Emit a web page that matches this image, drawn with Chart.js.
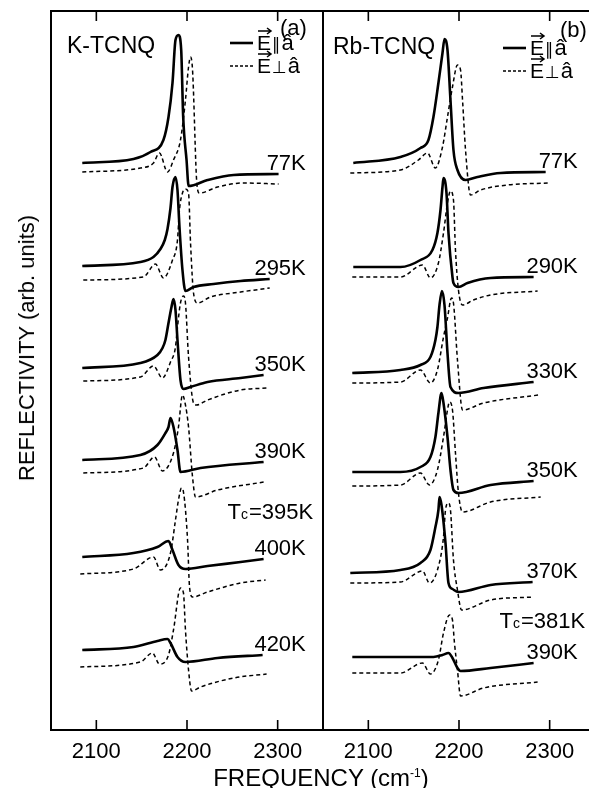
<!DOCTYPE html>
<html>
<head>
<meta charset="utf-8">
<script src="https://cdn.jsdelivr.net/npm/chart.js@4.4.0/dist/chart.umd.min.js"></script>
<style>
  body { margin: 0; width: 589px; height: 788px; overflow: hidden; background: #fff; position: relative;
         font-family: "Liberation Sans", Arial, sans-serif; color: #000; }
  canvas { position: absolute; top: 0; }
  #panelK { left: 0; }
  #panelRb { left: 313px; }
  .ytitle { position: absolute; left: 27px; top: 348px; transform: translate(-50%, -50%) rotate(-90deg);
            font-size: 22px; white-space: nowrap; }
  .xtitle { position: absolute; left: 321px; top: 766px; transform: translateX(-50%);
            font-size: 24px; line-height: 24px; white-space: nowrap; }
  .xtitle sup { font-size: 12px; vertical-align: 9px; line-height: 0; }
</style>
</head>
<body>
<canvas id="panelK" width="325" height="788"></canvas>
<canvas id="panelRb" width="282" height="788"></canvas>
<div class="ytitle">REFLECTIVITY (arb. units)</div>
<div class="xtitle">FREQUENCY (cm<sup>-1</sup>)</div>
<script>
const freqTicks = [2100, 2200, 2300]

// (a) K-TCNQ, temperatures top to bottom
const kTemps = ['77K', '295K', '350K', '390K', '400K', '420K']

// E || a (solid)
const k77ParF = [2084.5, 2141, 2159.7, 2174, 2179.6, 2184, 2187.3, 2190.6, 2193.6, 2195.8, 2199.5, 2201.8, 2222.7, 2251.4, 2301]
const k77ParR = [567, 571, 578, 590, 613, 647, 690, 695, 680, 613, 570, 544, 550, 555, 556]
const k295ParF = [2084.5, 2148.6, 2163, 2170.7, 2175.5, 2178.5, 2181.8, 2184, 2187.3, 2189.5, 2191.7, 2195, 2198.3, 2207.2, 2229.3, 2259.1, 2291.2]
const k295ParR = [464, 468, 473, 481, 490, 501, 522, 543, 553, 540, 503, 460, 439, 443, 446, 449, 451]
const k350ParF = [2084.5, 2148.6, 2167.4, 2173, 2176.2, 2179.6, 2182.9, 2185.1, 2187.3, 2189.5, 2192.8, 2196.1, 2203.9, 2222.7, 2259.1, 2284.5]
const k350ParR = [362, 367, 375, 382, 390, 407, 423, 431, 420, 390, 350, 341, 343, 348, 352, 355]
const k390ParF = [2084.5, 2148.6, 2167.4, 2176.2, 2179.6, 2181.8, 2185.1, 2189.5, 2192.8, 2214.9, 2284.5]
const k390ParR = [270, 275, 285, 297, 303, 312, 303, 280, 258, 262, 268]
const k400ParF = [2084.5, 2141, 2167.4, 2179.6, 2184, 2190.6, 2198.3, 2222.7, 2259.1, 2284.5]
const k400ParR = [173, 177, 183, 189, 180, 165, 161, 164, 168, 171]
const k420ParF = [2084.5, 2141, 2167.4, 2178.5, 2181.8, 2189.5, 2198.3, 2233.7, 2283.4]
const k420ParR = [80, 83, 89, 91, 87, 73, 68, 72, 75]

// E perpendicular to a (dashed)
const k77PerF = [2084.5, 2148.6, 2163, 2169.6, 2178.5, 2185.1, 2192.8, 2198.3, 2201.7, 2203.9, 2206.1, 2211, 2213.8, 2233.7, 2262.4, 2301]
const k77PerR = [558, 562, 567, 577, 558, 570, 590, 630, 663, 673, 660, 545, 537, 543, 547, 546]
const k295PerF = [2085.6, 2151.9, 2165.2, 2174, 2184, 2189.5, 2191.7, 2195, 2198.3, 2201.7, 2203.9, 2207.2, 2211.6, 2226, 2259.1, 2291.2]
const k295PerR = [450, 453, 466, 452, 470, 490, 520, 537, 541, 537, 487, 437, 427, 433, 438, 442]
const k350PerF = [2085.6, 2148.6, 2163, 2172.9, 2181.8, 2187.3, 2189.5, 2192.8, 2196.1, 2198.3, 2201.7, 2207.2, 2210.5, 2222.7, 2259.1, 2288.9]
const k350PerR = [349, 353, 364, 352, 368, 383, 403, 427, 434, 427, 373, 327, 325, 330, 340, 342]
const k390PerF = [2085.6, 2151.9, 2164.1, 2172.9, 2185.1, 2190.6, 2195, 2198.3, 2201.7, 2206.1, 2209.4, 2233.7, 2284.5]
const k390PerR = [257, 262, 273, 259, 277, 303, 335, 325, 303, 253, 233, 240, 248]
const k400PerF = [2082.3, 2141, 2163, 2170.7, 2181.8, 2187.3, 2190.6, 2193.9, 2196.1, 2200.6, 2202.8, 2206.1, 2222.7, 2259.1, 2286.7]
const k400PerR = [156, 161, 173, 160, 177, 210, 230, 242, 238, 190, 143, 133, 138, 147, 150]
const k420PerF = [2082.3, 2148.6, 2161.9, 2169.6, 2179.6, 2185.1, 2192.8, 2196.1, 2198.3, 2201.7, 2205, 2214.9, 2251.4, 2287.8]
const k420PerR = [63, 68, 77, 66, 75, 100, 142, 137, 100, 60, 39, 43, 52, 56]

// (b) Rb-TCNQ
const rbTemps = ['77K', '290K', '330K', '350K', '370K', '390K']

const rb77ParF = [2083.4, 2135.4, 2157.5, 2166.3, 2171.8, 2177.3, 2181.8, 2184, 2187.3, 2190.6, 2193.9, 2198.3, 2207.2, 2220.4, 2245.9, 2295.6]
const rb77ParR = [567, 573, 582, 590, 613, 647, 677, 691, 680, 630, 580, 560, 550, 553, 557, 558]
const rb290ParF = [2083.4, 2135.4, 2157.5, 2170.7, 2176.2, 2179.6, 2181.8, 2182.9, 2186.2, 2188.4, 2192.8, 2193.9, 2199.4, 2209.4, 2234.8, 2282.3]
const rb290ParR = [463, 463, 470, 480, 497, 520, 543, 552, 537, 497, 453, 447, 443, 447, 452, 453]
const rb330ParF = [2082.3, 2135.4, 2157.5, 2168.5, 2174, 2176.2, 2178.5, 2181.2, 2184, 2187.3, 2190.6, 2199.4, 2227.1, 2282.3]
const rb330ParR = [357, 360, 365, 373, 390, 403, 425, 439, 425, 377, 343, 337, 342, 348]
const rb350ParF = [2082.3, 2135.4, 2157.5, 2168.5, 2174, 2177.3, 2180.7, 2182.9, 2187.3, 2190.6, 2193.9, 2199.4, 2234.8, 2282.3]
const rb350ParR = [258, 258, 263, 273, 293, 317, 337, 327, 293, 260, 240, 237, 245, 249]
const rb370ParF = [2080.1, 2135.4, 2157.5, 2168.5, 2174, 2177.3, 2178.5, 2180.7, 2185.1, 2188.4, 2192.8, 2199.4, 2234.8, 2281.2]
const rb370ParR = [157, 160, 167, 180, 203, 220, 233, 225, 187, 147, 141, 138, 145, 148]
const rb390ParF = [2082.3, 2171.8, 2181.8, 2188.4, 2192.8, 2198.3, 2201.7, 2234.8, 2282.3]
const rb390ParR = [73, 73, 75, 77, 72, 62, 59, 62, 67]

const rb77PerF = [2080.1, 2135.4, 2155.2, 2165.2, 2174, 2181.8, 2187.3, 2192.8, 2198.3, 2201.7, 2203.9, 2207.2, 2212.7, 2223.8, 2253.6, 2297.8]
const rb77PerR = [557, 560, 570, 577, 562, 583, 613, 643, 665, 660, 630, 580, 535, 540, 545, 547]
const rb290PerF = [2082.3, 2135.4, 2159.7, 2168.5, 2177.3, 2182.9, 2187.3, 2190.6, 2193.9, 2196.1, 2199.4, 2203.9, 2216, 2234.8, 2286.7]
const rb290PerR = [453, 453, 465, 452, 467, 497, 527, 539, 530, 480, 440, 425, 430, 435, 439]
const rb330PerF = [2082.3, 2135.4, 2157.5, 2168.5, 2176.2, 2182.9, 2187.3, 2191.7, 2193.9, 2198.3, 2203.9, 2227.1, 2287.8]
const rb330PerR = [347, 348, 360, 347, 360, 393, 412, 432, 427, 370, 320, 327, 335]
const rb350PerF = [2082.3, 2135.4, 2157.5, 2167.4, 2176.2, 2182.9, 2187.3, 2189.5, 2192.8, 2196.1, 2199.4, 2203.9, 2234.8, 2290.1]
const rb350PerR = [244, 245, 257, 245, 260, 293, 320, 328, 320, 277, 237, 218, 228, 233]
const rb370PerF = [2080.1, 2135.4, 2159.7, 2167.4, 2176.2, 2182.9, 2185.1, 2188.4, 2190.6, 2193.9, 2198.3, 2202.8, 2234.8, 2282.3]
const rb370PerR = [147, 148, 159, 147, 160, 193, 220, 227, 220, 170, 140, 120, 130, 133]
const rb390PerF = [2082.3, 2135.4, 2159.7, 2168.5, 2177.3, 2182.9, 2189.5, 2192.8, 2195, 2198.3, 2201.7, 2227.1, 2286.7]
const rb390PerR = [57, 57, 67, 56, 70, 97, 115, 110, 87, 60, 34, 42, 48]

const FONT = '"Liberation Sans", "DejaVu Sans", Arial, sans-serif'

function pts(f, r) {
    return f.map((v, i) => ({ x: v, y: r[i] }))
}

function spectrum(f, r, dashed) {
    return {
        data: pts(f, r),
        borderColor: '#000',
        borderWidth: dashed ? 1.5 : 2.6,
        borderDash: dashed ? [4, 3] : [],
        pointRadius: 0,
        cubicInterpolationMode: 'monotone',
        fill: false
    }
}

// box round the plot area + inward ticks top and bottom
const frame = {
    id: 'frame',
    afterDraw(chart) {
        const { ctx, chartArea: a, scales: { x } } = chart
        ctx.save()
        ctx.strokeStyle = '#000'
        ctx.lineWidth = 2
        ctx.strokeRect(a.left, a.top, a.right - a.left, a.bottom - a.top)
        ctx.lineWidth = 1.6
        x.ticks.forEach(t => {
            const px = x.getPixelForValue(t.value)
            ctx.beginPath()
            ctx.moveTo(px, a.bottom)
            ctx.lineTo(px, a.bottom - 10)
            ctx.moveTo(px, a.top)
            ctx.lineTo(px, a.top + 10)
            ctx.stroke()
        })
        ctx.restore()
    }
}

function arrowOver(ctx, x0, x1, y) {
    ctx.beginPath()
    ctx.lineWidth = 1.5
    ctx.moveTo(x0, y)
    ctx.lineTo(x1, y)
    ctx.moveTo(x1 - 4, y - 3)
    ctx.lineTo(x1, y)
    ctx.lineTo(x1 - 4, y + 3)
    ctx.stroke()
}

// sample name, legend, temperatures, Tc
const notes = {
    id: 'notes',
    afterDraw(chart, args, o) {
        const { ctx, chartArea: a, scales: { x, y } } = chart
        ctx.save()
        ctx.fillStyle = '#000'
        ctx.strokeStyle = '#000'
        ctx.textBaseline = 'alphabetic'
        ctx.textAlign = 'left'

        ctx.font = '23px ' + FONT
        ctx.fillText(o.sample, a.left + o.titleDx, o.titleY)
        ctx.font = '22px ' + FONT
        ctx.fillText(o.letter, a.left + o.letterDx, o.letterY)

        // legend
        const lx = a.left + o.legendDx
        ;['\u2225', '\u22A5'].forEach((sym, row) => {
            const base = o.legendY + row * 23
            ctx.beginPath()
            ctx.lineWidth = row ? 1.3 : 2.6
            ctx.setLineDash(row ? [3, 2] : [])
            ctx.moveTo(lx - 27, base - 7)
            ctx.lineTo(lx - 4, base - 7)
            ctx.stroke()
            ctx.setLineDash([])
            ctx.font = '21px ' + FONT
            ctx.fillText('E', lx, base)
            const ew = ctx.measureText('E').width
            arrowOver(ctx, lx + 1, lx + ew, base - 19)
            ctx.font = '17px ' + FONT
            ctx.fillText(sym, lx + ew + 1, base)
            const sw = ctx.measureText(sym).width
            ctx.font = '22px ' + FONT
            ctx.fillText('\u00E2', lx + ew + sw + 2, base)
        })

        // temperature above the right end of each solid curve
        ctx.font = '22px ' + FONT
        ctx.textAlign = 'right'
        const labelX = x.getPixelForValue(2331)
        o.temps.forEach((t, i) => {
            const r = o.ends[i]
            ctx.fillText(t, labelX, y.getPixelForValue(r[r.length - 1]) - 4)
        })

        // Tc
        const tcRight = x.getPixelForValue(2338)
        const tcBase = y.getPixelForValue(o.tcAt)
        const rest = '=' + o.tc
        const wRest = ctx.measureText(rest).width
        ctx.font = '14px ' + FONT
        const wc = ctx.measureText('c').width
        ctx.font = '22px ' + FONT
        const wT = ctx.measureText('T').width
        ctx.textAlign = 'left'
        let px = tcRight - wRest - wc - wT
        ctx.fillText('T', px, tcBase)
        ctx.font = '14px ' + FONT
        ctx.fillText('c', px + wT, tcBase)
        ctx.font = '22px ' + FONT
        ctx.fillText(rest, px + wT + wc + 1, tcBase)

        ctx.restore()
    }
}

function makePanel(id, solid, dashed, padLeft, padRight, noteOpts) {
    const sets = []
    solid.forEach(c => sets.push(spectrum(c[0], c[1], false)))
    dashed.forEach(c => sets.push(spectrum(c[0], c[1], true)))
    noteOpts.ends = solid.map(c => c[1])
    return new Chart(document.getElementById(id).getContext('2d'), {
        type: 'line',
        data: { datasets: sets },
        options: {
            responsive: false,
            animation: false,
            devicePixelRatio: 1,
            layout: { padding: { left: padLeft, right: padRight, top: 11, bottom: 0 } },
            plugins: { legend: { display: false }, tooltip: { enabled: false }, notes: noteOpts },
            scales: {
                x: {
                    type: 'linear',
                    min: 2050,
                    max: 2350,
                    grid: { display: false, drawTicks: false },
                    border: { display: false },
                    afterBuildTicks(scale) { scale.ticks = freqTicks.map(v => ({ value: v })) },
                    afterFit(scale) { scale.height = 58 },
                    ticks: {
                        color: '#000',
                        padding: 9,
                        maxRotation: 0,
                        font: { family: FONT, size: 22 },
                        callback: v => String(v)
                    }
                },
                y: { display: false, min: 0, max: 719 }
            }
        },
        plugins: [frame, notes]
    })
}

makePanel('panelK',
    [[k77ParF, k77ParR], [k295ParF, k295ParR], [k350ParF, k350ParR], [k390ParF, k390ParR], [k400ParF, k400ParR], [k420ParF, k420ParR]],
    [[k77PerF, k77PerR], [k295PerF, k295PerR], [k350PerF, k350PerR], [k390PerF, k390PerR], [k400PerF, k400PerR], [k420PerF, k420PerR]],
    51, 2,
    { sample: 'K-TCNQ', titleDx: 16, titleY: 53, letter: '(a)', letterDx: 229, letterY: 35,
      legendDx: 206, legendY: 50, temps: kTemps, tc: '395K', tcAt: 211 })

makePanel('panelRb',
    [[rb77ParF, rb77ParR], [rb290ParF, rb290ParR], [rb330ParF, rb330ParR], [rb350ParF, rb350ParR], [rb370ParF, rb370ParR], [rb390ParF, rb390ParR]],
    [[rb77PerF, rb77PerR], [rb290PerF, rb290PerR], [rb330PerF, rb330PerR], [rb350PerF, rb350PerR], [rb370PerF, rb370PerR], [rb390PerF, rb390PerR]],
    10, 0,
    { sample: 'Rb-TCNQ', titleDx: 10, titleY: 54, letter: '(b)', letterDx: 237, letterY: 37,
      legendDx: 207, legendY: 55, temps: rbTemps, tc: '381K', tcAt: 102 })
</script>
</body>
</html>
